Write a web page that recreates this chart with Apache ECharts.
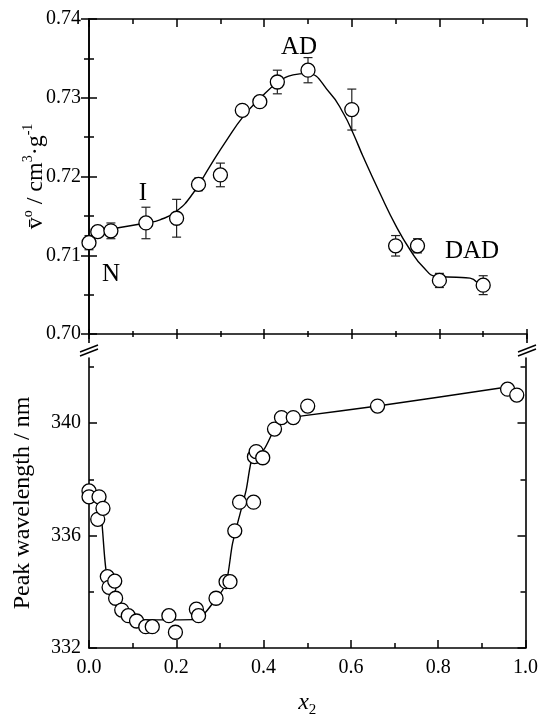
<!DOCTYPE html>
<html>
<head>
<meta charset="utf-8">
<script src="https://cdn.jsdelivr.net/npm/echarts@6/dist/echarts.min.js"></script>
<style>
  html, body { margin: 0; background: #fff; }
  #chart { width: 541px; height: 721px; }
</style>
</head>
<body>
<div id="chart"></div>
<script>
// upper panel: partial specific volume, with error bars
const volX = [0.00, 0.02, 0.05, 0.13, 0.20, 0.25, 0.30, 0.35, 0.39, 0.43, 0.50, 0.60, 0.70, 0.75, 0.80, 0.90];
const volY = [0.7116, 0.7130, 0.7131, 0.7141, 0.7147, 0.7190, 0.7202, 0.7284, 0.7295, 0.7320, 0.7335, 0.7285, 0.7112, 0.7112, 0.7068, 0.7062];
const volErr = [0.0009, 0.0006, 0.0010, 0.0020, 0.0024, 0.0008, 0.0015, 0.0005, 0.0004, 0.0015, 0.0016, 0.0026, 0.0013, 0.0009, 0.0009, 0.0012];

// fitted curve through the upper panel
const fitX = [0.00, 0.02, 0.05, 0.13, 0.162, 0.20, 0.238, 0.276, 0.314, 0.352, 0.39, 0.43, 0.466, 0.497, 0.55, 0.581, 0.603, 0.626, 0.664, 0.702, 0.733, 0.763, 0.794, 0.839, 0.870, 0.885];
const fitY = [0.7116, 0.7129, 0.7133, 0.7141, 0.7145, 0.7156, 0.7179, 0.7213, 0.7246, 0.7276, 0.7299, 0.7319, 0.7329, 0.7331, 0.7306, 0.7280, 0.7255, 0.7225, 0.7179, 0.7136, 0.7107, 0.7085, 0.7073, 0.7072, 0.7071, 0.7066];

// lower panel: peak wavelength
const waveX = [0.000, 0.000, 0.023, 0.020, 0.032, 0.042, 0.046, 0.059, 0.061, 0.075, 0.090, 0.109, 0.130, 0.145, 0.183, 0.198, 0.246, 0.251, 0.291, 0.314, 0.323, 0.334, 0.345, 0.377, 0.379, 0.383, 0.398, 0.425, 0.441, 0.468, 0.501, 0.661, 0.959, 0.980];
const waveY = [337.59, 337.38, 337.38, 336.58, 336.97, 334.54, 334.16, 334.38, 333.77, 333.35, 333.15, 332.96, 332.76, 332.76, 333.15, 332.56, 333.38, 333.15, 333.77, 334.36, 334.36, 336.17, 337.19, 337.19, 338.81, 338.99, 338.77, 339.79, 340.20, 340.20, 340.61, 340.61, 341.21, 341.00];

// guide line through the lower panel
const guideX = [0.000, 0.023, 0.040, 0.059, 0.088, 0.124, 0.145, 0.246, 0.291, 0.314, 0.329, 0.360, 0.375, 0.400, 0.425, 0.441, 0.468, 0.489, 0.661, 0.954];
const guideY = [337.50, 337.27, 334.66, 333.95, 333.35, 333.00, 333.00, 333.02, 333.75, 334.30, 335.73, 337.62, 338.81, 339.05, 339.80, 340.10, 340.20, 340.26, 340.61, 341.28];

const waveTicks = [332, 336, 340];
const waveMinor = [334, 338, 342];

const FONT = '"Liberation Serif", "Times New Roman", serif';
const INK = '#000';

function pairs(xs, ys) {
  return xs.map((x, i) => [x, ys[i]]);
}

function renderErr(params, api) {
  const x = api.value(0), y = api.value(1), e = api.value(2);
  const hi = api.coord([x, y + e]);
  const lo = api.coord([x, y - e]);
  const w = 4.5;
  const style = { stroke: '#222', lineWidth: 1.2 };
  return {
    type: 'group',
    children: [
      { type: 'line', shape: { x1: hi[0], y1: hi[1], x2: lo[0], y2: lo[1] }, style },
      { type: 'line', shape: { x1: hi[0] - w, y1: hi[1], x2: hi[0] + w, y2: hi[1] }, style },
      { type: 'line', shape: { x1: lo[0] - w, y1: lo[1], x2: lo[0] + w, y2: lo[1] }, style }
    ]
  };
}

function xAx(grid, pos, opts) {
  return Object.assign({
    gridIndex: grid,
    type: 'value',
    position: pos,
    min: 0,
    max: 1,
    interval: 0.2,
    splitLine: { show: false },
    axisLine: { show: true, lineStyle: { color: INK, width: 1.6 } },
    axisTick: { show: true, inside: true, length: 8, lineStyle: { color: INK, width: 1.5 } },
    minorTick: { show: true, splitNumber: 2, length: 5, lineStyle: { color: INK, width: 1.5 } },
    axisLabel: { show: false }
  }, opts);
}

function yAx(grid, pos, opts) {
  return Object.assign({
    gridIndex: grid,
    type: 'value',
    position: pos,
    splitLine: { show: false },
    axisLine: { show: true, lineStyle: { color: INK, width: 1.6 } },
    axisTick: { show: true, inside: true, length: 8, lineStyle: { color: INK, width: 1.5 } },
    axisLabel: { show: false }
  }, opts);
}

const labelStyle = { show: true, color: INK, fontFamily: FONT, fontSize: 20 };

function renderChart() {
  const chart = echarts.init(document.getElementById('chart'));
  const option = {
    animation: false,
    backgroundColor: '#fff',
    grid: [
      { left: 89, right: 14, top: 19, height: 315 },
      { left: 89, right: 14, top: 358, bottom: 73 }
    ],
    xAxis: [
      xAx(0, 'bottom', { axisTick: { show: true, inside: true, length: 5, lineStyle: { color: INK, width: 1.5 } },
                         minorTick: { show: true, splitNumber: 2, length: 3, lineStyle: { color: INK, width: 1.5 } } }),
      xAx(0, 'bottom', { axisLine: { show: false },
                         axisTick: { show: true, inside: false, length: 5, lineStyle: { color: INK, width: 1.5 } },
                         minorTick: { show: true, splitNumber: 2, length: 3, lineStyle: { color: INK, width: 1.5 } } }),
      xAx(0, 'top'),
      xAx(1, 'bottom', {
        axisLabel: Object.assign({}, labelStyle, { margin: 10, formatter: v => v.toFixed(1) }),
        name: '{i|x}{s|2}',
        nameLocation: 'middle',
        nameGap: 40,
        nameMoveOverlap: false,
        nameTextStyle: {
          rich: {
            i: { fontFamily: FONT, fontStyle: 'italic', fontSize: 24, color: INK, lineHeight: 30 },
            s: { fontFamily: FONT, fontSize: 15, color: INK, verticalAlign: 'bottom' }
          }
        }
      })
    ],
    yAxis: [
      yAx(0, 'left', {
        min: 0.70, max: 0.74, interval: 0.01,
        minorTick: { show: true, splitNumber: 2, length: 5, lineStyle: { color: INK, width: 1.5 } },
        axisLabel: Object.assign({}, labelStyle, { margin: 8, formatter: v => v.toFixed(2) }),
        name: '{b|v\u0304}{p|o}{b| / cm}{p|3}{b|\u00b7g}{p|-1}',
        nameLocation: 'middle',
        nameRotate: 90,
        nameGap: 38,
        nameMoveOverlap: false,
        nameTextStyle: {
          rich: {
            b: { fontFamily: FONT, fontSize: 24, color: INK, lineHeight: 30 },
            p: { fontFamily: FONT, fontSize: 14, color: INK, verticalAlign: 'top' }
          }
        }
      }),
      yAx(0, 'right', {
        min: 0.70, max: 0.74, interval: 0.01,
        minorTick: { show: true, splitNumber: 2, length: 5, lineStyle: { color: INK, width: 1.5 } }
      }),
      yAx(1, 'left', {
        min: 332, max: 342.32,
        axisTick: { show: true, inside: true, length: 8, customValues: waveTicks, lineStyle: { color: INK, width: 1.5 } },
        axisLabel: Object.assign({}, labelStyle, { margin: 8, customValues: waveTicks }),
        name: 'Peak wavelength / nm',
        nameLocation: 'middle',
        nameGap: 54,
        nameMoveOverlap: false,
        nameTextStyle: { fontFamily: FONT, fontSize: 24, color: INK }
      }),
      yAx(1, 'left', {
        min: 332, max: 342.32,
        axisLine: { show: false },
        axisTick: { show: true, inside: true, length: 5, customValues: waveMinor, lineStyle: { color: INK, width: 1.5 } }
      }),
      yAx(1, 'right', {
        min: 332, max: 342.32,
        axisTick: { show: true, inside: true, length: 8, customValues: waveTicks, lineStyle: { color: INK, width: 1.5 } }
      }),
      yAx(1, 'right', {
        min: 332, max: 342.32,
        axisLine: { show: false },
        axisTick: { show: true, inside: true, length: 5, customValues: waveMinor, lineStyle: { color: INK, width: 1.5 } }
      })
    ],
    series: [
      {
        type: 'custom',
        xAxisIndex: 0,
        yAxisIndex: 0,
        renderItem: renderErr,
        encode: { x: 0, y: 1 },
        data: volX.map((x, i) => [x, volY[i], volErr[i]]),
        z: 2
      },
      {
        type: 'line',
        xAxisIndex: 0,
        yAxisIndex: 0,
        smooth: true,
        showSymbol: false,
        lineStyle: { color: INK, width: 1.4 },
        data: pairs(fitX, fitY),
        z: 3
      },
      {
        type: 'scatter',
        xAxisIndex: 0,
        yAxisIndex: 0,
        symbol: 'circle',
        symbolSize: 14,
        itemStyle: { color: '#fff', borderColor: INK, borderWidth: 1.3, opacity: 1 },
        data: pairs(volX, volY),
        z: 4
      },
      {
        type: 'line',
        xAxisIndex: 3,
        yAxisIndex: 2,
        smooth: 0.25,
        showSymbol: false,
        lineStyle: { color: INK, width: 1.4 },
        data: pairs(guideX, guideY),
        z: 3
      },
      {
        type: 'scatter',
        xAxisIndex: 3,
        yAxisIndex: 2,
        symbol: 'circle',
        symbolSize: 14,
        itemStyle: { color: '#fff', borderColor: INK, borderWidth: 1.3, opacity: 1 },
        data: pairs(waveX, waveY),
        z: 4
      }
    ],
    graphic: [
      // axis stubs under the upper panel and break marks
      { type: 'line', shape: { x1: 89, y1: 334, x2: 89, y2: 343 }, style: { stroke: INK, lineWidth: 1.6 } },
      { type: 'line', shape: { x1: 527, y1: 334, x2: 527, y2: 343 }, style: { stroke: INK, lineWidth: 1.6 } },
      { type: 'line', shape: { x1: 80, y1: 352, x2: 98, y2: 345 }, style: { stroke: INK, lineWidth: 1.4 } },
      { type: 'line', shape: { x1: 80, y1: 356, x2: 98, y2: 349 }, style: { stroke: INK, lineWidth: 1.4 } },
      { type: 'line', shape: { x1: 518, y1: 352, x2: 536, y2: 345 }, style: { stroke: INK, lineWidth: 1.4 } },
      { type: 'line', shape: { x1: 518, y1: 356, x2: 536, y2: 349 }, style: { stroke: INK, lineWidth: 1.4 } },
      // region labels
      { type: 'text', x: 143, y: 193, style: { text: 'I', font: '25px "Liberation Serif"', fill: INK, textAlign: 'center', textVerticalAlign: 'middle' } },
      { type: 'text', x: 111, y: 274, style: { text: 'N', font: '25px "Liberation Serif"', fill: INK, textAlign: 'center', textVerticalAlign: 'middle' } },
      { type: 'text', x: 299, y: 47, style: { text: 'AD', font: '25px "Liberation Serif"', fill: INK, textAlign: 'center', textVerticalAlign: 'middle' } },
      { type: 'text', x: 472, y: 251, style: { text: 'DAD', font: '25px "Liberation Serif"', fill: INK, textAlign: 'center', textVerticalAlign: 'middle' } }
    ]
  };
  chart.setOption(option, true);
}

renderChart();
</script>
</body>
</html>
